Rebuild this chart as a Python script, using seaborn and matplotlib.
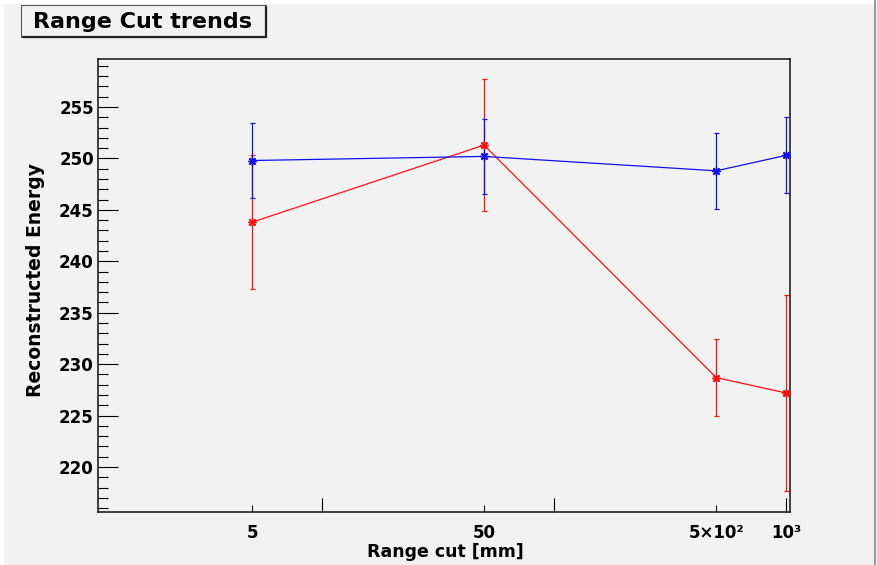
import matplotlib
matplotlib.use("Agg")
import matplotlib.pyplot as plt
import seaborn as sns
import pandas as pd
from matplotlib.patches import Rectangle
from matplotlib.lines import Line2D
from matplotlib.ticker import FixedLocator, FixedFormatter

# ---- data ----
range_cut = [5, 50, 500, 1000]
energy_blue = [249.8, 250.2, 248.8, 250.3]
err_blue = [3.6, 3.65, 3.7, 3.7]
energy_red = [243.8, 251.3, 228.7, 227.2]
err_red = [6.5, 6.4, 3.75, 9.5]

title_text = "Range Cut trends"
x_label = "Range cut [mm]"
y_label = "Reconstructed Energy"
x_major_ticks = [10, 100, 1000]
x_major_labels = ["", "", "10\u00b3"]
x_minor_ticks = [5, 50, 500]
x_minor_labels = ["5", "50", "5\u00d710\u00b2"]
y_major_ticks = [220, 225, 230, 235, 240, 245, 250, 255]
y_minor_ticks = list(range(216, 260))

sns.set_style("white")
plt.rcParams["font.family"] = ["DejaVu Sans"]
plt.rcParams["text.color"] = "black"
plt.rcParams["xtick.color"] = "black"
plt.rcParams["ytick.color"] = "black"

BG = "#f2f2f2"
W, H = 878, 565
fig = plt.figure(figsize=(W / 100, H / 100), dpi=100)
fig.patch.set_facecolor(BG)

ax = fig.add_axes([98 / W, 1 - 512 / H, (790 - 98) / W, (512 - 59) / H])
ax.set_facecolor(BG)

df_red = pd.DataFrame({"x": range_cut, "y": energy_red})
df_blue = pd.DataFrame({"x": range_cut, "y": energy_blue})

RED = "#ff1010"
BLUE = "#1010ee"

for df, err, col in [(df_red, err_red, RED), (df_blue, err_blue, BLUE)]:
    ax.errorbar(df["x"], df["y"], yerr=err, fmt="none", ecolor=col,
                elinewidth=0.9, capsize=1.8, capthick=0.9, zorder=2)
    sns.lineplot(data=df, x="x", y="y", ax=ax, color=col, linewidth=0.9,
                 marker=(8, 2, 0), markersize=6, markeredgewidth=1.0,
                 markeredgecolor=col, zorder=3)

ax.set_xscale("log")
ax.set_xlim(1.085, 1040)
ax.set_ylim(215.63, 259.67)

ax.xaxis.set_major_locator(FixedLocator(x_major_ticks))
ax.xaxis.set_major_formatter(FixedFormatter(x_major_labels))
ax.xaxis.set_minor_locator(FixedLocator(x_minor_ticks))
ax.xaxis.set_minor_formatter(FixedFormatter(x_minor_labels))
ax.yaxis.set_major_locator(FixedLocator(y_major_ticks))
ax.yaxis.set_minor_locator(FixedLocator(y_minor_ticks))

ax.tick_params(axis="x", which="major", direction="in", length=10, width=0.8,
               color="black", labelcolor="black", pad=9, labelsize=12,
               bottom=True, top=False)
ax.tick_params(axis="x", which="minor", direction="in", length=5, width=0.8,
               color="black", labelcolor="black", pad=9, labelsize=12,
               bottom=True, top=False)
ax.tick_params(axis="y", which="major", direction="in", length=14.4, width=0.8,
               color="black", labelcolor="black", pad=3, labelsize=12,
               left=True, right=False)
ax.tick_params(axis="y", which="minor", direction="in", length=7.2, width=0.8,
               color="black", left=True, right=False)
for lab in ax.get_xticklabels(which="both") + ax.get_yticklabels():
    lab.set_fontweight("bold")
ax.set_xlabel("")
ax.set_ylabel("")

for sp in ax.spines.values():
    sp.set_visible(True)
    sp.set_color("#111111")
    sp.set_linewidth(1.1)

fig.text(445 / W, 1 - 557 / H, x_label, ha="center", va="baseline",
         fontsize=12.5, fontweight="bold", color="black")
fig.text(36 / W, 1 - 280 / H, y_label, ha="center", va="center",
         rotation=90, fontsize=13.5, fontweight="bold", color="black")

# title box with ROOT-style shadow
fig.add_artist(Rectangle((21 / W, 1 - 37 / H), 245 / W, 32 / H,
                         transform=fig.transFigure, facecolor=BG,
                         edgecolor="#555555", linewidth=0.8))
fig.add_artist(Line2D([266 / W, 266 / W], [1 - 7 / H, 1 - 37 / H],
                      transform=fig.transFigure, color="#222222", linewidth=1.6))
fig.add_artist(Line2D([23 / W, 266 / W], [1 - 37 / H, 1 - 37 / H],
                      transform=fig.transFigure, color="#222222", linewidth=1.6))
fig.text(142.5 / W, 1 - 28 / H, title_text, ha="center", va="baseline",
         fontsize=16, fontweight="bold", color="black")

# canvas edges
fig.add_artist(Rectangle((0, 0), 4 / W, 1, transform=fig.transFigure,
                         facecolor="white", edgecolor="none"))
fig.add_artist(Rectangle((0, 1 - 4 / H), 1, 4 / H, transform=fig.transFigure,
                         facecolor="white", edgecolor="none"))
fig.add_artist(Rectangle((874 / W, 0), 2 / W, 1, transform=fig.transFigure,
                         facecolor="#9a9a9a", edgecolor="none"))

fig.savefig("out.png", dpi=100, facecolor=fig.get_facecolor())
